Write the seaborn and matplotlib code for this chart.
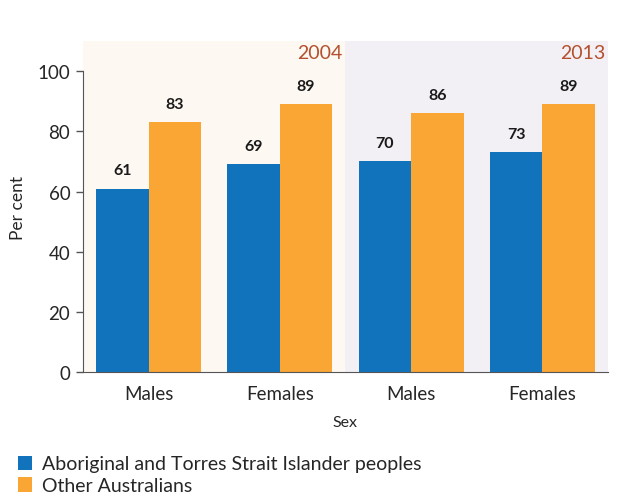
import pandas as pd
import matplotlib.pyplot as plt
import seaborn as sns

years = ['2004', '2004', '2013', '2013']
sexes = ['Males', 'Females', 'Males', 'Females']
indigenous = [61, 69, 70, 73]
other = [83, 89, 86, 89]
groups = ['Aboriginal and Torres Strait Islander peoples', 'Other Australians']

rows = []
for y, s, a, b in zip(years, sexes, indigenous, other):
    rows.append({'slot': f'{s} {y}', 'group': groups[0], 'value': a})
    rows.append({'slot': f'{s} {y}', 'group': groups[1], 'value': b})
df = pd.DataFrame(rows)
order = [f'{s} {y}' for y, s in zip(years, sexes)]

sns.set_style('white')
plt.rcParams['font.family'] = ['Lato', 'DejaVu Sans']

fig = plt.figure(figsize=(6.23, 5.02), dpi=100)
ax = fig.add_axes([0.133, 0.257, 0.843, 0.659])

ax.axvspan(-0.5, 1.5, color='#fdf8f1', zorder=0, lw=0)
ax.axvspan(1.5, 3.5, color='#f3f0f5', zorder=0, lw=0)

sns.barplot(data=df, x='slot', y='value', hue='group', order=order,
            hue_order=groups, palette=['#1273bd', '#faa634'], width=0.8,
            saturation=1, linewidth=0, ax=ax, zorder=2)

for cont in ax.containers:
    for bar in cont:
        h = bar.get_height()
        ax.annotate(f'{h:.0f}', (bar.get_x() + bar.get_width() / 2, h),
                    xytext=(0, 8), textcoords='offset points', ha='center',
                    va='bottom', fontsize=11.5, fontweight='bold', color='#1a1a1a')

ax.text(1.48, 109, '2004', ha='right', va='top', fontsize=14, color='#b4502e')
ax.text(3.48, 109, '2013', ha='right', va='top', fontsize=14, color='#b4502e')

ax.set_xlim(-0.5, 3.5)
ax.set_ylim(0, 110)
ax.set_yticks(range(0, 101, 20))
ax.set_xticks(range(4))
ax.set_xticklabels(sexes)
ax.tick_params(axis='y', left=True, length=5, width=1, color='#555555',
               labelsize=13.5, pad=4)
ax.tick_params(axis='x', bottom=False, labelsize=13.5, pad=6)
ax.set_xlabel('Sex', fontsize=11.5, labelpad=9)
ax.set_ylabel('Per cent', fontsize=12.5, labelpad=8)

sns.despine(ax=ax)
ax.spines['left'].set_bounds(0, 100)
ax.spines['left'].set_color('#555555')
ax.spines['bottom'].set_color('#555555')

handles, labels = ax.get_legend_handles_labels()
ax.get_legend().remove()
fig.legend(handles, labels, loc='lower left', bbox_to_anchor=(0.01, -0.01),
           frameon=False, fontsize=14, handlelength=0.75, handleheight=0.75,
           handletextpad=0.5, labelspacing=0.25, borderaxespad=0.2)

fig.savefig('out.png', dpi=100, facecolor='white')
